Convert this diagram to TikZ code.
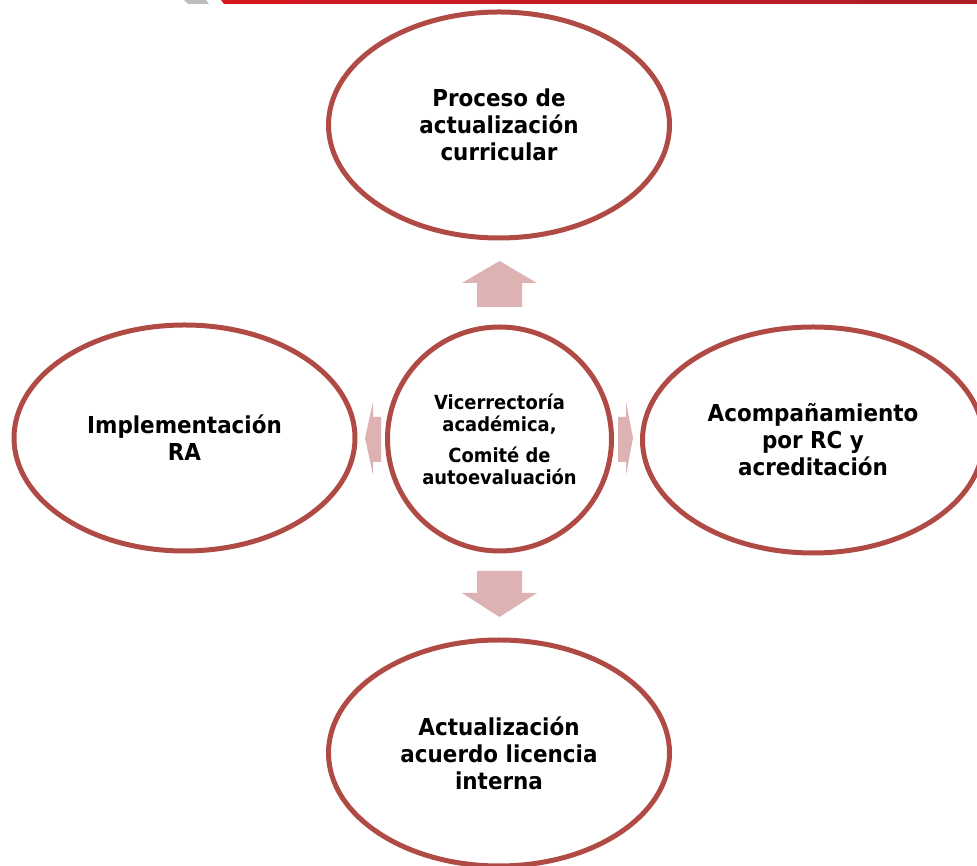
\documentclass[tikz,border=0pt]{standalone}
\usepackage{fontspec}
\newfontfamily\tahoma{DejaVu Sans}[FakeStretch=0.92]
\usetikzlibrary{shapes.geometric}
\definecolor{borde}{RGB}{176,74,69}
\definecolor{rosa}{RGB}{222,178,178}
\definecolor{barraRoja}{RGB}{214,24,32}
\definecolor{barraOscura}{RGB}{172,30,38}
\definecolor{barraGris}{RGB}{190,190,190}

\begin{document}
\begin{tikzpicture}[x=0.75pt, y=0.75pt,
    elipse/.style={ellipse, draw=borde, line width=3.75pt, inner sep=0pt,
        minimum width=255.75pt, minimum height=169.5pt, align=center,
        font=\tahoma\bfseries\fontsize{17.5}{20.25}\selectfont},
    centro/.style={circle, draw=borde, line width=3.75pt, inner sep=0pt,
        minimum size=168pt, align=center,
        font=\tahoma\bfseries\fontsize{14.6}{16.5}\selectfont},
    flecha/.style={fill=rosa}]
    \useasboundingbox (0,0) rectangle (977,866);

    % Header strip (cut off)
    \fill[barraGris] (184,866) -- (206,866) -- (209,862) -- (188,862) -- cycle;
    \shade[left color=barraRoja, right color=barraOscura]
        (221,866) -- (977,866) -- (977,862) -- (224,862) -- cycle;

    % Central circle
    \node[centro] (vice) at (499.5,427) {Vicerrectoría\\académica,\\[6.75pt]Comité de\\autoevaluación};

    % Outer ellipses
    \node[elipse] (proceso) at (499,741) {Proceso de\\actualización\\curricular};
    \node[elipse] (impl) at (184.5,428) {Implementación\\RA};
    \node[elipse] (acomp) at (813,426) {Acompañamiento\\por RC y\\acreditación};
    \node[elipse] (acuerdo) at (499,113) {Actualización\\acuerdo licencia\\interna};

    % Block arrows
    \fill[flecha] (477,559) -- (477,583) -- (462,583) -- (499.5,605)
        -- (537,583) -- (522,583) -- (522,559) -- cycle;
    \fill[flecha] (477,295) -- (477,273) -- (462,273) -- (499.5,249)
        -- (537,273) -- (522,273) -- (522,295) -- cycle;
    \fill[flecha] (381,449) -- (373,449) -- (373,464) -- (365,428)
        -- (373,391) -- (373,404) -- (381,404) -- cycle;
    \fill[flecha] (618,449) -- (626,449) -- (626,464) -- (633,428)
        -- (626,391) -- (626,404) -- (618,404) -- cycle;
\end{tikzpicture}
\end{document}
